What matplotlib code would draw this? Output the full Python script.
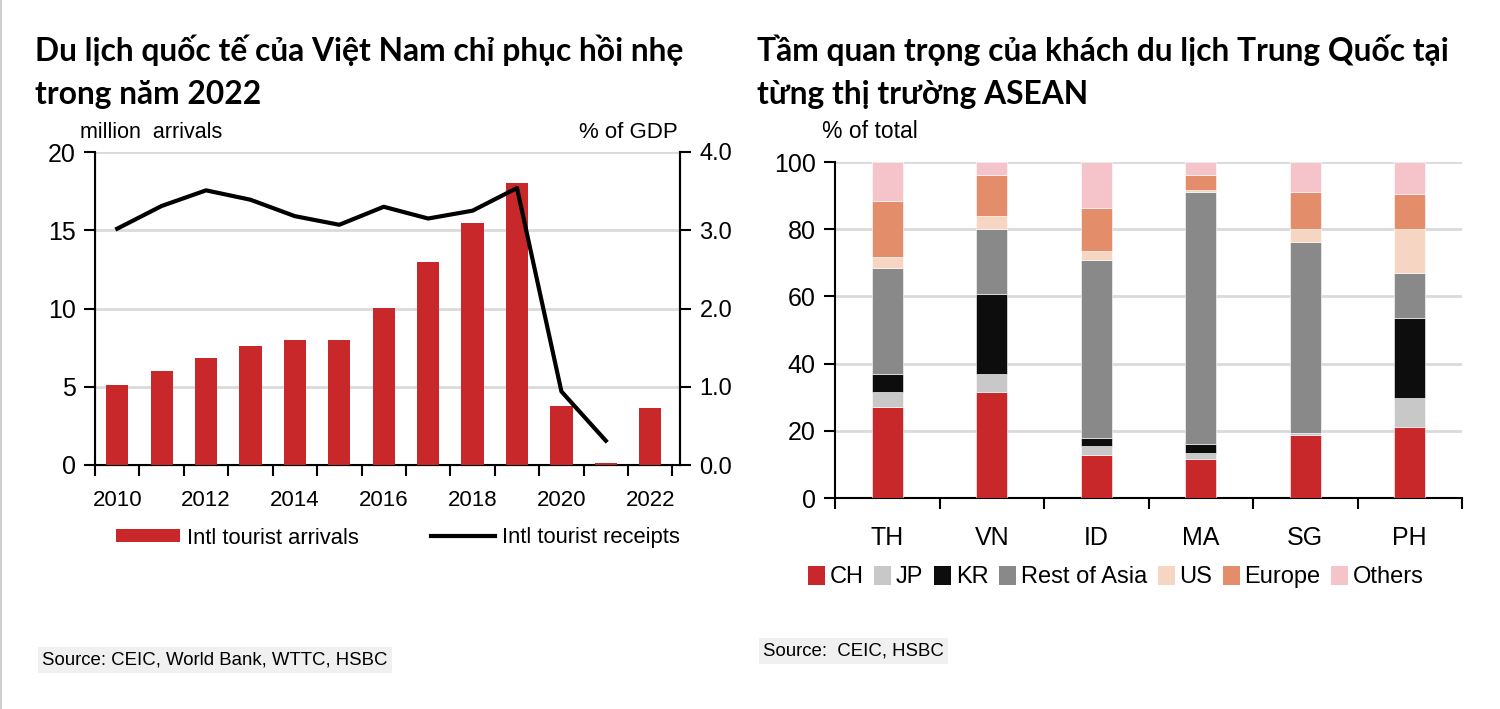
import matplotlib
matplotlib.use("Agg")
import matplotlib.pyplot as plt
from matplotlib import font_manager
from matplotlib.patches import Patch
from matplotlib.lines import Line2D
import numpy as np

# ---------------- data ----------------
years = [2010, 2011, 2012, 2013, 2014, 2015, 2016, 2017, 2018, 2019, 2020, 2021, 2022]
arrivals = [5.1, 6.0, 6.85, 7.6, 8.0, 8.0, 10.05, 12.95, 15.45, 18.0, 3.8, 0.1, 3.65]
receipts_years = [2010, 2011, 2012, 2013, 2014, 2015, 2016, 2017, 2018, 2019, 2020, 2021]
receipts = [3.02, 3.31, 3.51, 3.39, 3.18, 3.07, 3.30, 3.15, 3.25, 3.54, 0.94, 0.31]
year_ticklabels = ["2010", "2012", "2014", "2016", "2018", "2020", "2022"]

markets = ["TH", "VN", "ID", "MA", "SG", "PH"]
seg_names = ["CH", "JP", "KR", "Rest of Asia", "US", "Europe", "Others"]
ch = [27.1, 31.6, 12.7, 11.5, 18.7, 21.2]
jp = [4.5, 5.2, 2.7, 2.0, 0.5, 8.5]
kr = [5.2, 23.9, 2.6, 2.6, 0.2, 23.8]
rest_asia = [31.6, 19.3, 52.9, 75.0, 56.8, 13.6]
us = [3.3, 4.0, 2.7, 0.5, 3.9, 13.0]
europe = [16.7, 12.1, 12.8, 4.5, 11.1, 10.3]
others = [11.6, 3.9, 13.6, 3.9, 8.8, 9.6]

# ---------------- fonts ----------------
avail = {f.name for f in font_manager.fontManager.ttflist}
narrow = "Liberation Sans Narrow" if "Liberation Sans Narrow" in avail else "Liberation Sans"
body_font = [narrow, "DejaVu Sans"]
title_font = [f for f in ["Lato", "Noto Sans"] if f in avail] + ["DejaVu Sans"]

plt.rcParams["font.family"] = body_font

fig = plt.figure(figsize=(15, 7.09), dpi=100)
W, H = 1500, 709

def fx(px):
    return px / W

def fy(py):
    return 1 - py / H

red = "#C8282A"
grid_c = "#DADADA"
tick_fs = 16

# faint image border on the left
fig.add_artist(Line2D([0.0008, 0.0008], [0, 1], transform=fig.transFigure,
                      color="#CFCFCF", linewidth=1.5))

# ---------------- left chart ----------------
axL = fig.add_axes([fx(95), fy(465), fx(680) - fx(95), fy(152) - fy(465)])
x = np.arange(len(years))
axL.bar(x, arrivals, width=0.5, color=red, zorder=3)
axL.set_xlim(-0.5, 12.67)
axL.set_ylim(0, 20)
axL.set_yticks([0, 5, 10, 15, 20])
axL.yaxis.grid(True, color=grid_c, linewidth=2, zorder=0)
axL.set_axisbelow(True)
axL.set_xticks(np.arange(-0.5, 13, 1.0))
axL.set_xticklabels([])
axL.set_xticks(np.arange(0, 13, 2), minor=True)
axL.set_xticklabels(year_ticklabels, minor=True, fontsize=tick_fs)
axL.tick_params(axis="x", which="major", length=8, width=1.5, direction="out")
axL.tick_params(axis="x", which="minor", length=0, pad=18)
axL.tick_params(axis="y", length=8, width=1.5, labelsize=18, pad=6)
axL.spines["top"].set_visible(False)
for s in ["left", "right", "bottom"]:
    axL.spines[s].set_linewidth(1.5)

axR = axL.twinx()
yr_idx = [years.index(y) for y in receipts_years]
axR.plot(yr_idx, receipts, color="black", linewidth=3, zorder=4)
axR.set_ylim(0, 4)
axR.set_yticks([0, 1, 2, 3, 4])
axR.set_yticklabels(["0.0", "1.0", "2.0", "3.0", "4.0"])
axR.tick_params(axis="y", length=8, width=1.5, labelsize=17, pad=6)
axR.spines["top"].set_visible(False)
axR.spines["right"].set_linewidth(1.5)

fig.text(fx(80), fy(132), "million  arrivals", fontsize=15.5, va="center", ha="left")
fig.text(fx(678), fy(132), "% of GDP", fontsize=16, va="center", ha="right")

handlesL = [Patch(facecolor=red, edgecolor="none"),
            Line2D([0], [0], color="black", linewidth=3)]
fig.legend(handlesL, ["Intl tourist arrivals", "Intl tourist receipts"],
           loc="center left", bbox_to_anchor=(fx(116), fy(538)), ncol=2,
           frameon=False, fontsize=15.8, handlelength=2.9, handleheight=0.55,
           handletextpad=0.32, columnspacing=3.3, borderpad=0, borderaxespad=0)

# ---------------- right chart ----------------
axB = fig.add_axes([fx(835), fy(498), fx(1462) - fx(835), fy(162) - fy(498)])
segs = [ch, jp, kr, rest_asia, us, europe, others]
seg_colors = ["#C8282A", "#C8C8C8", "#0D0D0D", "#898989", "#F6D6C3", "#E38D6A", "#F5C4CA"]
xm = np.arange(len(markets))
bottom = np.zeros(len(markets))
for vals, col, name in zip(segs, seg_colors, seg_names):
    axB.bar(xm, vals, bottom=bottom, width=0.3, color=col, edgecolor="white",
            linewidth=0.4, zorder=3, label=name)
    bottom += np.array(vals)
axB.set_xlim(-0.5, 5.5)
axB.set_ylim(0, 100)
axB.set_yticks([0, 20, 40, 60, 80, 100])
axB.yaxis.grid(True, color=grid_c, linewidth=2, zorder=0)
axB.set_axisbelow(True)
axB.set_xticks(np.arange(-0.5, 5.6, 1.0))
axB.set_xticklabels([])
axB.set_xticks(xm, minor=True)
axB.set_xticklabels(markets, minor=True, fontsize=18)
axB.tick_params(axis="x", which="major", length=8, width=1.5, direction="out")
axB.tick_params(axis="x", which="minor", length=0, pad=20)
axB.tick_params(axis="y", length=8, width=1.5, labelsize=18, pad=6)
for s in ["top", "right"]:
    axB.spines[s].set_visible(False)
for s in ["left", "bottom"]:
    axB.spines[s].set_linewidth(1.5)

fig.text(fx(822), fy(132), "% of total", fontsize=16.5, va="center", ha="left")

handlesB = [Patch(facecolor=c, edgecolor="none") for c in seg_colors]
fig.legend(handlesB, seg_names, loc="center", bbox_to_anchor=(fx(1116), fy(577)),
           ncol=7, frameon=False, fontsize=17, handlelength=0.72, handleheight=0.85,
           handletextpad=0.2, columnspacing=0.45, borderpad=0, borderaxespad=0)

# ---------------- titles ----------------
title_kw = dict(fontweight="bold", family=title_font, va="baseline", ha="left")
fig.text(fx(35), fy(61), "Du lịch quốc tế của Việt Nam chỉ phục hồi nhẹ", fontsize=22.9, **title_kw)
fig.text(fx(35), fy(104), "trong năm 2022", fontsize=22.9, **title_kw)
fig.text(fx(757), fy(61), "Tầm quan trọng của khách du lịch Trung Quốc tại", fontsize=22.9, **title_kw)
fig.text(fx(757), fy(104), "từng thị trường ASEAN", fontsize=22.9, **title_kw)

# ---------------- sources ----------------
fig.text(fx(42), fy(660), "Source: CEIC, World Bank, WTTC, HSBC", fontsize=13.4,
         va="center", ha="left",
         bbox=dict(facecolor="#F0F0F0", edgecolor="none", pad=3))
fig.text(fx(763), fy(651), "Source:  CEIC, HSBC", fontsize=13.4, va="center", ha="left",
         bbox=dict(facecolor="#F0F0F0", edgecolor="none", pad=3))

fig.savefig("out.png", dpi=100)
